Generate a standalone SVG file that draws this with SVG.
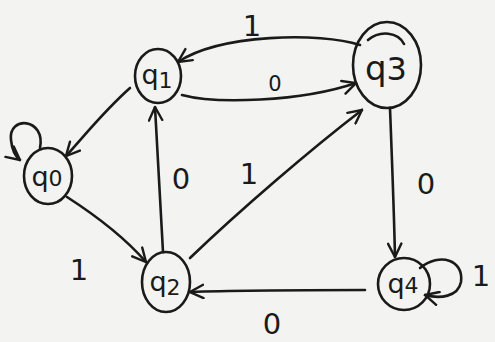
<svg xmlns="http://www.w3.org/2000/svg" width="495" height="342" viewBox="0 0 495 342">
<defs>
<marker id="arr" viewBox="0 0 12 12" refX="11" refY="6" markerWidth="16" markerHeight="16" markerUnits="userSpaceOnUse" orient="auto">
<path d="M1,1 L11,6 L1,11" fill="none" stroke="#1a1a1a" stroke-width="1.8" stroke-linecap="round"/>
</marker>
</defs>
<style>
.st{fill:none;stroke:#1a1a1a;stroke-width:2.6;stroke-linecap:round}
.nl{font-family:"DejaVu Sans",sans-serif;font-size:27px;fill:#1a1a1a;text-anchor:middle}
.sub{font-size:22px}
.el{font-family:"DejaVu Sans",sans-serif;font-size:29px;fill:#1a1a1a;text-anchor:middle}
</style>
<rect width="495" height="342" fill="#f3f3f1"/>
<g id="edges">
<path class="st" marker-end="url(#arr)" d="M360,45 C320,32 220,34 178,62"/>
<text class="el" x="252" y="36">1</text>
<path class="st" marker-end="url(#arr)" d="M182,95 C215,104 300,102 356,83"/>
<text class="el" x="275" y="91" style="font-size:21px">0</text>
<path class="st" marker-end="url(#arr)" d="M130,88 C105,110 85,135 66,156"/>
<path class="st" marker-end="url(#arr)" d="M40,148 C46,118 8,115 11,140 C12,150 15,156 20,160"/>
<path class="st" marker-end="url(#arr)" d="M67,197 C95,215 125,238 146,262"/>
<text class="el" x="79" y="280">1</text>
<path class="st" marker-end="url(#arr)" d="M163,252 C160,200 157,150 155,107"/>
<text class="el" x="181" y="189">0</text>
<path class="st" marker-end="url(#arr)" d="M190,258 C240,210 310,150 362,110"/>
<text class="el" x="249" y="184">1</text>
<path class="st" marker-end="url(#arr)" d="M390,108 C392,160 394,210 395,257"/>
<text class="el" x="426" y="194">0</text>
<path class="st" marker-end="url(#arr)" d="M365,290 C310,290 240,290 190,292"/>
<text class="el" x="272" y="334">0</text>
<path class="st" marker-end="url(#arr)" d="M420,268 C440,252 464,260 461,282 C458,297 440,299 425,295"/>
<text class="el" x="481" y="286">1</text>
</g>
<g id="q0">
<ellipse class="st" cx="48" cy="176" rx="24" ry="28"/>
<text class="nl" x="47" y="186">q<tspan class="sub">0</tspan></text>
</g>
<g id="q1">
<ellipse class="st" cx="158" cy="76" rx="23" ry="27"/>
<text class="nl" x="157" y="84">q<tspan class="sub" dy="4">1</tspan></text>
</g>
<g id="q2">
<ellipse class="st" cx="166" cy="282" rx="24" ry="30"/>
<text class="nl" x="165" y="291">q<tspan class="sub" dy="4">2</tspan></text>
</g>
<g id="q3">
<ellipse class="st" cx="387" cy="65" rx="34" ry="43"/>
<path class="st" d="M368,40 C380,30 398,32 404,44"/>
<text class="nl" x="386" y="80" style="font-size:34px">q<tspan style="font-size:32px">3</tspan></text>
</g>
<g id="q4">
<ellipse class="st" cx="404" cy="284" rx="26" ry="26"/>
<text class="nl" x="403" y="293">q<tspan class="sub">4</tspan></text>
</g>
</svg>
